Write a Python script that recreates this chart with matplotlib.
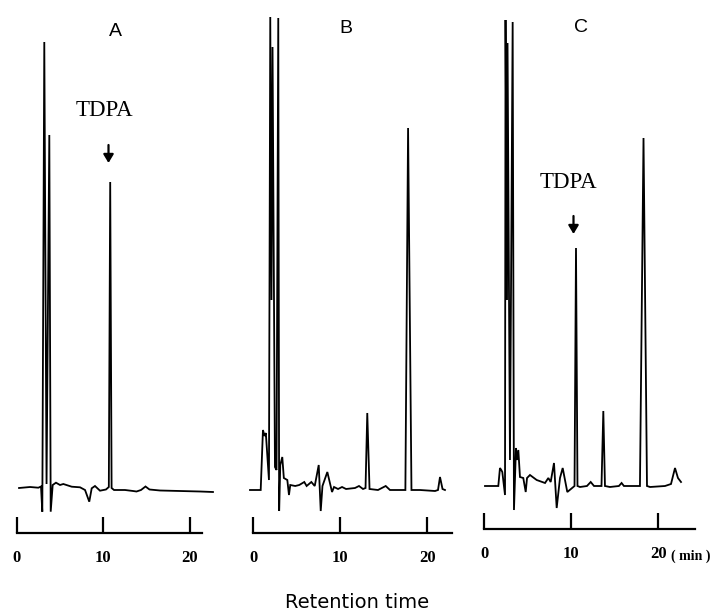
import numpy as np
import matplotlib
matplotlib.use("Agg")
import matplotlib.pyplot as plt

W, H = 713, 615

# chromatogram traces (time in min, detector signal in arbitrary units, baseline = 0)
a_time = [0.27, 1.54, 2.50, 2.81, 2.96, 3.19, 3.45, 3.77, 3.93, 4.16,
          4.54, 5.01, 5.39, 6.36, 7.32, 7.90, 8.39, 8.67, 9.05, 9.63,
          10.32, 10.65, 10.81, 10.97, 11.25, 12.52, 13.45, 13.85, 14.37, 14.89,
          15.35, 16.57, 18.88, 21.19, 22.69]
a_sig = [0, 1, 0.3, 1.5, -23.7, 446, 4, 353, -23.7, 3,
         5.3, 3, 4, 1.3, 0.7, -2, -13.7, -0.3, 2, -2.7,
         -1.5, 1, 306, 0, -2, -2, -3, -3.5, -2, 1.5,
         -1.5, -2.5, -3, -3.5, -4]

b_time = [-0.38, 0.85, 1.11, 1.29, 1.44, 1.80, 1.95, 2.09, 2.21, 2.49,
          2.67, 2.87, 2.97, 3.10, 3.33, 3.51, 3.91, 4.10, 4.25, 4.82,
          5.28, 5.86, 6.13, 6.67, 7.06, 7.52, 7.75, 7.95, 8.51, 9.05,
          9.28, 9.74, 10.20, 10.66, 11.69, 12.15, 12.61, 12.90, 13.10, 13.36,
          14.33, 15.22, 15.71, 17.32, 17.48, 17.79, 18.18, 19.16, 20.89, 21.23,
          21.46, 21.75, 22.03]
b_sig = [0, 0, 60, 54, 57, 10, 473, 190, 443, 23,
         20, 472, -21, 25, 33, 12, 10, -5, 5, 4,
         5, 8, 4, 8, 4, 25, -21, 4, 18, -2,
         3, 1, 3, 1, 2, 4, 1, 2, 77, 1,
         0, 4, 0, 0, 0, 362, 0, 0, -1, 0,
         13, 1, 0]

c_time = [0.08, 1.61, 1.80, 1.95, 2.07, 2.38, 2.44, 2.61, 2.67, 2.95,
          3.26, 3.41, 3.64, 3.76, 3.91, 4.10, 4.48, 4.76, 4.91, 5.25,
          6.02, 6.98, 7.36, 7.63, 8.01, 8.32, 8.70, 9.01, 9.54, 10.37,
          10.54, 10.71, 11.00, 11.80, 12.23, 12.61, 13.47, 13.68, 13.87, 14.44,
          15.47, 15.78, 16.05, 17.89, 18.30, 18.70, 19.05, 20.77, 21.46, 21.92,
          22.26, 22.61]
c_sig = [0, 0, 18, 16, 14, -9, 466, 186, 443, 26,
         464, -24, 38, 26, 36, 9, 8, -6, 8, 11,
         6, 3, 8, 4, 23, -22, 8, 18, -6, 0,
         238, 0, -1, 0, 4, 0, 0, 75, 0, -1,
         0, 3, 0, 0, 348, 0, -1, 0, 2, 18,
         8, 4]

ticks = [0, 10, 20]
tick_labels_a = ["0", "10", "20"]
tick_labels_b = ["0", "10", "20"]
tick_labels_c = ["0", "10", "20"]
panel_names = ["A", "B", "C"]

# panel layout in pixels: x of t=0, px per min, t range, axis-line y, baseline y, axis end (min)
layout = [
    dict(x0=16.7, ppm=8.65, tmin=-1.5, tmax=23.5, axis_y=533.0, base_y=488.0, tend=21.4),
    dict(x0=253.3, ppm=8.7, tmin=-1.0, tmax=23.5, axis_y=533.0, base_y=490.0, tend=22.8),
    dict(x0=484.3, ppm=8.7, tmin=-1.0, tmax=25.5, axis_y=529.3, base_y=486.0, tend=24.2),
]
traces = [(a_time, a_sig, tick_labels_a), (b_time, b_sig, tick_labels_b), (c_time, c_sig, tick_labels_c)]

fig = plt.figure(figsize=(W / 100, H / 100), dpi=100)
top_y = 8.0
axes = []
for lay, (t, s, tl) in zip(layout, traces):
    left = lay["x0"] + lay["tmin"] * lay["ppm"]
    right = lay["x0"] + lay["tmax"] * lay["ppm"]
    ax = fig.add_axes([left / W, (H - lay["axis_y"]) / H, (right - left) / W,
                       (lay["axis_y"] - top_y) / H])
    ax.plot(t, s, color="black", lw=1.3, solid_joinstyle="miter")
    ax.set_xlim(lay["tmin"], lay["tmax"])
    ax.set_ylim(-(lay["axis_y"] - lay["base_y"]), lay["base_y"] - top_y)
    for side in ["top", "right", "left"]:
        ax.spines[side].set_visible(False)
    ax.spines["bottom"].set_bounds(0, lay["tend"])
    ax.spines["bottom"].set_linewidth(1.6)
    ax.set_yticks([])
    ax.set_xticks(ticks)
    ax.set_xticklabels(tl, fontfamily="Liberation Serif", fontweight="bold", fontsize=12)
    ax.tick_params(axis="x", direction="in", length=11.5, width=1.6, pad=12)
    ax.patch.set_alpha(0)
    axes.append(ax)

# panel letters
for name, x, y in zip(panel_names, [115, 346, 581], [32, 28.5, 27.5]):
    fig.text(x / W, 1 - y / H, name, fontfamily="Liberation Sans", fontsize=14,
             ha="center", va="center")

# TDPA labels and arrows
for x, y, xa, y0, y1 in [(104, 111, 108.5, 145, 163), (568.7, 182, 573.5, 216, 234)]:
    fig.text(x / W, 1 - y / H, "TDPA", fontfamily="Liberation Serif", fontsize=16.5,
             ha="center", va="center")
    fig.add_artist(matplotlib.patches.FancyArrowPatch(
        (xa / W, 1 - y0 / H), (xa / W, 1 - y1 / H), transform=fig.transFigure,
        arrowstyle="-|>,head_length=5,head_width=3", color="black", lw=1.6,
        shrinkA=0, shrinkB=0))

fig.text(671 / W, 1 - 556 / H, "( min )", fontfamily="Liberation Serif",
         fontweight="bold", fontsize=10, ha="left", va="center")
fig.text(357 / W, 1 - 602 / H, "Retention time", fontfamily="DejaVu Sans",
         fontsize=14, ha="center", va="center")

fig.savefig("out.png", dpi=100)
